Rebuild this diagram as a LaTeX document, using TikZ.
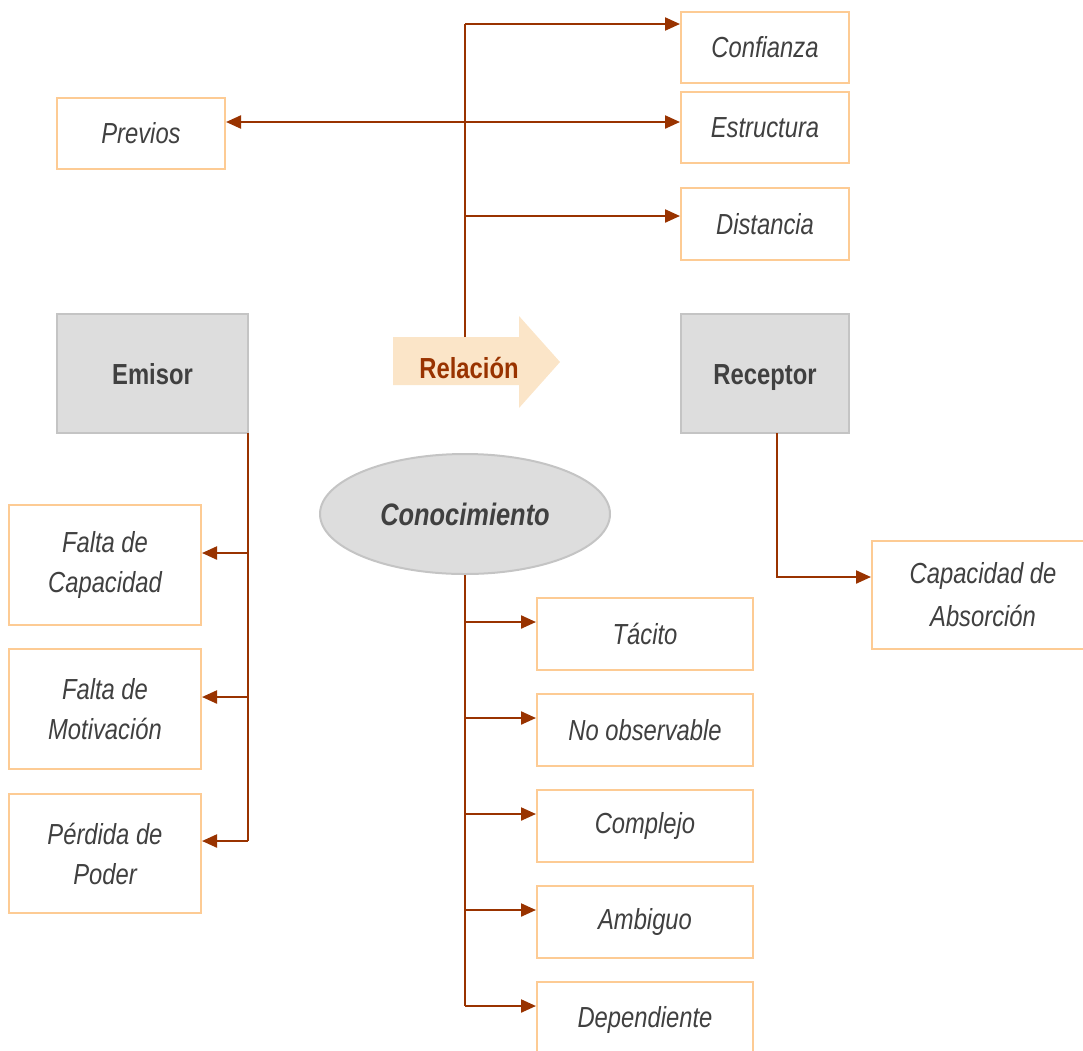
\documentclass[tikz,border=0pt]{standalone}
\usepackage{fontspec}
\setmainfont{Liberation Sans}[FakeStretch=0.82]
\usetikzlibrary{arrows.meta,shapes.geometric}
\definecolor{linkc}{HTML}{993300}
\definecolor{boxc}{HTML}{FDCB94}
\definecolor{greyf}{HTML}{DDDDDD}
\definecolor{greyd}{HTML}{C4C4C4}
\definecolor{txt}{HTML}{404040}
\definecolor{relf}{HTML}{FBE5C8}
\tikzset{
  x=1pt, y=-1pt,
  every node/.style={font=\fontsize{29}{40}\selectfont, text=txt, inner sep=0pt},
  labelbox/.style={draw=boxc, line width=2pt, fill=white, align=center, font=\fontsize{29}{40}\selectfont\itshape},
  actor/.style={draw=greyd, line width=2pt, fill=greyf, text height=21pt, text depth=0pt,
                font=\fontsize{29}{40}\selectfont\bfseries},
  link/.style={draw=linkc, line width=2.2pt, -{Triangle[length=15pt,width=13pt]}},
  wire/.style={draw=linkc, line width=2.2pt},
}
\begin{document}
\begin{tikzpicture}
\useasboundingbox (0,0) rectangle (1083,1050);
\clip (0,0) rectangle (1083,1050);

% upper group: relation factors
\node[labelbox, minimum width=168, minimum height=71] (conf) at (765,47.5) {Confianza};
\node[labelbox, minimum width=168, minimum height=71] (estr) at (765,127.5) {Estructura};
\node[labelbox, minimum width=168, minimum height=72] (dist) at (765,224) {Distancia};
\node[labelbox, minimum width=168, minimum height=71] (prev) at (141,133.5) {Previos};

% main actors
\node[actor, minimum width=191, minimum height=119] (emis) at (152.5,373.5) {Emisor};
\node[actor, minimum width=168, minimum height=119] (rece) at (765,373.5) {Receptor};

% relation arrow
\fill[relf] (393,337) -- (519,337) -- (519,316) -- (560,362) -- (519,408) -- (519,385) -- (393,385) -- cycle;
\node[text=linkc, font=\fontsize{29}{40}\selectfont\bfseries] (rel) at (469,368) {Relación};
\coordinate (relTop) at (465,337);
\coordinate (tConf) at (465,24);
\coordinate (tDist) at (465,216);

% knowledge
\node[ellipse, draw=greyd, line width=2pt, fill=greyf, minimum width=290, minimum height=120,
      font=\fontsize{31}{40}\selectfont\bfseries\itshape] (cono) at (465,514) {Conocimiento};

% emitter factors
\node[labelbox, minimum width=192, minimum height=120] (fcap) at (105,565) {Falta de\\Capacidad};
\node[labelbox, minimum width=192, minimum height=120] (fmot) at (105,709) {Falta de\\Motivación};
\node[labelbox, minimum width=192, minimum height=119] (pper) at (105,853.5) {Pérdida de\\Poder};

% knowledge attributes
\node[labelbox, minimum width=216, minimum height=72] (taci) at (645,634) {Tácito};
\node[labelbox, minimum width=216, minimum height=72] (nobs) at (645,730) {No observable};
\node[labelbox, minimum width=216, minimum height=72] (comp) at (645,826) {Complejo};
\node[labelbox, minimum width=216, minimum height=72] (ambi) at (645,922) {Ambiguo};
\node[labelbox, minimum width=216, minimum height=76] (depe) at (645,1020) {Dependiente};

% receiver factor
\node[labelbox, minimum width=222, minimum height=108, font=\fontsize{29}{43}\selectfont\itshape] (absr) at (983,595) {Capacidad de\\Absorción};

% relation connectors
\draw[wire] (relTop) -- (tConf);
\draw[link] (tConf) -- (conf.west |- tConf);
\draw[link] (tDist) -- (dist.west |- tDist);
\draw[link, {Triangle[length=15pt,width=13pt]}-{Triangle[length=15pt,width=13pt]}] (prev.east |- 0,122) -- (estr.west |- 0,122);

% emitter connectors
\coordinate (eTop) at (248,433);
\coordinate (eBot) at (248,841);
\draw[wire] (eTop) -- (eBot);
\draw[link] (248,553) -- (fcap.east |- 0,553);
\draw[link] (248,697) -- (fmot.east |- 0,697);
\draw[link] (eBot) -- (pper.east |- eBot);

% knowledge connectors
\draw[wire] (cono.south) -- (465,1006);
\draw[link] (465,622) -- (taci.west |- 0,622);
\draw[link] (465,718) -- (nobs.west |- 0,718);
\draw[link] (465,814) -- (comp.west |- 0,814);
\draw[link] (465,910) -- (ambi.west |- 0,910);
\draw[link] (465,1006) -- (depe.west |- 0,1006);

% receiver connector
\draw[link] (777,433) |- (absr.west |- 0,577);
\end{tikzpicture}
\end{document}
